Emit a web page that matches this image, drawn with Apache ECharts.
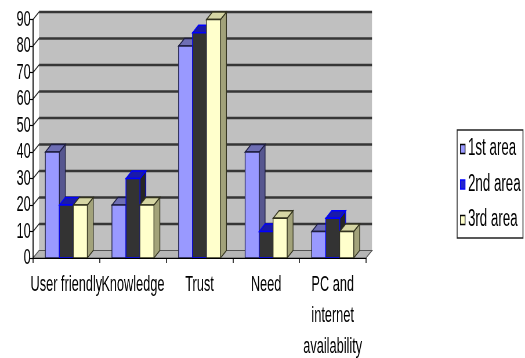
<!DOCTYPE html>
<html>
<head>
<meta charset="utf-8">
<script src="https://cdn.jsdelivr.net/npm/echarts@6/dist/echarts.min.js"></script>
<style>
  html, body { margin: 0; padding: 0; background: #fff; overflow: hidden; width: 525px; height: 358px; }
  /* the chart is laid out on a wider canvas and squeezed horizontally to get the narrow lettering */
  #chart { width: 905px; height: 358px; transform: scaleX(0.58011); transform-origin: 0 0; }
</style>
</head>
<body>
<div id="chart"></div>
<script>
// ---- data ----
const categories = ['User friendly', 'Knowledge', 'Trust', 'Need', 'PC and\ninternet\navailability'];
const seriesNames = ['1st area', '2nd area', '3rd area'];
const area1 = [40, 20, 80, 40, 10];
const area2 = [20, 30, 85, 10, 15];
const area3 = [20, 20, 90, 15, 10];
const yMin = 0, yMax = 90, yStep = 10;

// ---- look ----
const FONT = '"Liberation Sans", Arial, sans-serif';
const DX = 10.3, DY = -7.5;          // depth offset of the pseudo-3D columns and walls
const BAR_FRACTION = 0.21;           // width of one column relative to a category band
const palettes = [
  { front: '#9999ff', top: '#6e6eb4', side: '#56568f', edge: '#1e1e40' },
  { front: '#333333', top: '#1a1aa8', side: '#262626', edge: '#0000ff' },
  { front: '#ffffcc', top: '#d6d6a4', side: '#a2a27a', edge: '#33331f' }
];
const legendColors = ['#9999ff', '#2222cc', '#ffffcc'];

function renderFrame(params, api) {
  const cs = params.coordSys;
  const x0 = cs.x, x1 = cs.x + cs.width;
  const y0 = api.coord([0, yMin])[1];
  const yTop = api.coord([0, yMax])[1];
  const children = [];
  // back wall
  children.push({ type: 'rect', shape: { x: x0 + DX, y: yTop + DY, width: cs.width, height: y0 - yTop },
    style: { fill: '#c0c0c0' } });
  // floor
  children.push({ type: 'polygon',
    shape: { points: [[x0, y0], [x1, y0], [x1 + DX, y0 + DY], [x0 + DX, y0 + DY]] },
    style: { fill: '#b6b6b6', stroke: '#555', lineWidth: 1.2 } });
  // gridlines on the wall and their edges on the side
  for (let v = yMin + yStep; v <= yMax; v += yStep) {
    const y = api.coord([0, v])[1];
    children.push({ type: 'line', shape: { x1: x0 + DX, y1: y + DY, x2: x1 + DX, y2: y + DY },
      style: { stroke: '#363636', lineWidth: 2.4 } });
    children.push({ type: 'line', shape: { x1: x0, y1: y, x2: x0 + DX, y2: y + DY },
      style: { stroke: '#222', lineWidth: 1.4 } });
  }
  return { type: 'group', children: children };
}

function makeBarRenderer(k) {
  const c = palettes[k];
  return function (params, api) {
    const i = api.value(0), v = api.value(1);
    const top = api.coord([i, v]);
    const base = api.coord([i, yMin]);
    const band = api.size([1, 0])[0];
    const bw = band * BAR_FRACTION;
    const x = top[0] - 1.5 * bw + k * bw;
    const yt = top[1], yb = base[1];
    return {
      type: 'group',
      children: [
        { type: 'polygon',
          shape: { points: [[x + bw, yt], [x + bw + DX, yt + DY], [x + bw + DX, yb + DY], [x + bw, yb]] },
          style: { fill: c.side, stroke: c.edge, lineWidth: 1.3 } },
        { type: 'polygon',
          shape: { points: [[x, yt], [x + bw, yt], [x + bw + DX, yt + DY], [x + DX, yt + DY]] },
          style: { fill: c.top, stroke: c.edge, lineWidth: 1.3 } },
        { type: 'rect', shape: { x: x, y: yt, width: bw, height: yb - yt },
          style: { fill: c.front, stroke: c.edge, lineWidth: 1.3 } }
      ]
    };
  };
}

const valueSets = [area1, area2, area3];
const barSeries = valueSets.map((vals, k) => ({
  type: 'custom',
  name: seriesNames[k],
  color: legendColors[k],
  renderItem: makeBarRenderer(k),
  encode: { x: 0, y: 1 },
  data: vals.map((v, i) => [i, v]),
  clip: false,
  z: 3
}));

const chart = echarts.init(document.getElementById('chart'), null, { renderer: 'canvas' });
chart.setOption({
  animation: false,
  backgroundColor: '#fff',
  textStyle: { fontFamily: FONT },
  grid: { left: 56.9, right: 274.1, top: 19.5, bottom: 100, containLabel: false, outerBoundsMode: 'none' },
  xAxis: {
    type: 'category',
    data: categories,
    axisLine: { show: true, lineStyle: { color: '#000', width: 1.2 } },
    axisTick: { show: true, length: 5, lineStyle: { color: '#000', width: 1.5 } },
    axisLabel: { interval: 0, margin: 11, fontSize: 22, lineHeight: 31, color: '#000', fontFamily: FONT },
    splitLine: { show: false },
    z: 5
  },
  yAxis: {
    type: 'value',
    min: yMin, max: yMax, interval: yStep,
    axisLine: { show: true, lineStyle: { color: '#000', width: 1.7 } },
    axisTick: { show: true, length: 5, lineStyle: { color: '#000', width: 1.2 } },
    axisLabel: { margin: 4, fontSize: 22, color: '#000', fontFamily: FONT },
    splitLine: { show: false },
    z: 5
  },
  legend: {
    orient: 'vertical',
    left: 793, top: 137.5,
    padding: 0,
    itemGap: 12.5,
    itemWidth: 8, itemHeight: 9,
    icon: 'rect',
    textStyle: { fontSize: 23, lineHeight: 23, color: '#000', fontFamily: FONT },
    data: seriesNames.map((n, k) => ({
      name: n,
      itemStyle: { color: legendColors[k], borderColor: k === 1 ? '#0000ff' : '#000', borderWidth: 1.3 }
    }))
  },
  graphic: [
    { type: 'rect', shape: { x: 788, y: 130, width: 113.5, height: 108 },
      style: { fill: 'none', stroke: '#222', lineWidth: 1.5 }, silent: true }
  ],
  series: [
    {
      type: 'custom',
      name: 'frame',
      renderItem: renderFrame,
      encode: { x: 0, y: 1 },
      data: [[0, 0]],
      clip: false,
      silent: true,
      z: 1
    }
  ].concat(barSeries)
});
</script>
</body>
</html>
